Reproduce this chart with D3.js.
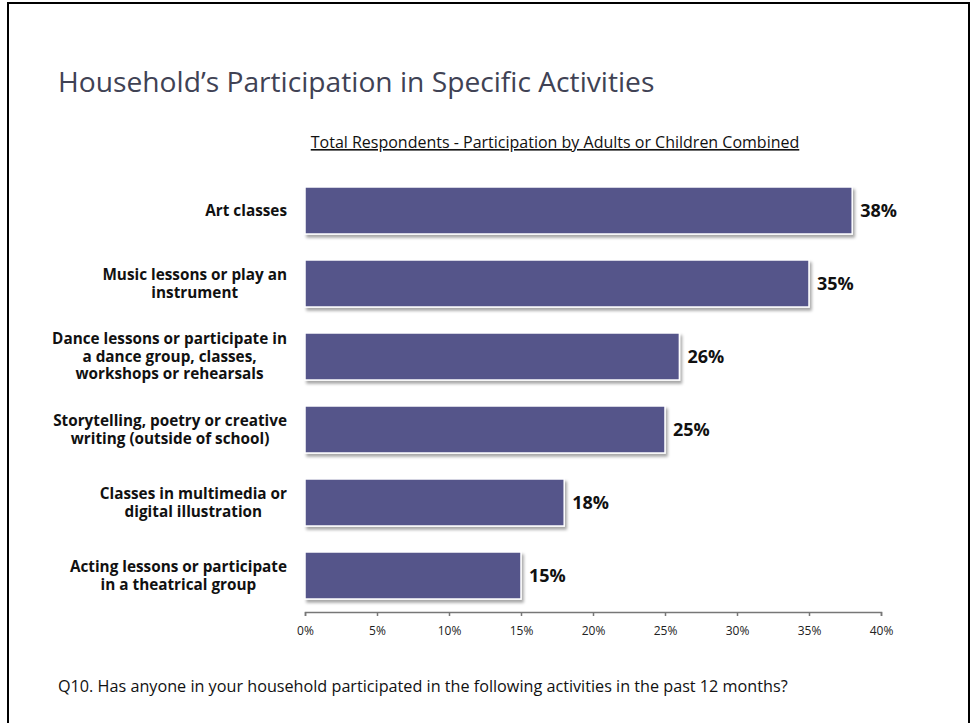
<!DOCTYPE html>
<html lang="en">
<head>
<meta charset="UTF-8">
<title>Household's Participation in Specific Activities</title>
<script src="https://d3js.org/d3.v7.min.js"></script>
<style>
body {
  margin: 0;
  background: white;
}
svg {
  display: block;
}
text {
  font-family: "Open Sans", "Noto Sans", sans-serif;
}
</style>
</head>
<body>
<svg></svg>
<script>
// chart values
let activities = [
  ["Art classes"],
  ["Music lessons or play an", "instrument"],
  ["Dance lessons or participate in", "a dance group, classes,", "workshops or rehearsals"],
  ["Storytelling, poetry or creative", "writing (outside of school)"],
  ["Classes in multimedia or", "digital illustration"],
  ["Acting lessons or participate", "in a theatrical group"]
];
let percents = [38, 35, 26, 25, 18, 15];
let ticks = [0, 5, 10, 15, 20, 25, 30, 35, 40];

let title = "Household\u2019s Participation in Specific Activities";
let subtitle = "Total Respondents - Participation by Adults or Children Combined";
let footnote = "Q10. Has anyone in your household participated in the following activities in the past 12 months?";

let width = 972;
let height = 723;

let svg = d3.select("svg")
  .attr("width", width)
  .attr("height", height);

// drop shadow for the bars
let defs = svg.append("defs");
let shadow = defs.append("filter")
  .attr("id", "shadow")
  .attr("x", "-5%").attr("y", "-20%")
  .attr("width", "115%").attr("height", "150%");
shadow.append("feDropShadow")
  .attr("dx", 2).attr("dy", 3)
  .attr("stdDeviation", 1.5)
  .attr("flood-color", "#000")
  .attr("flood-opacity", 0.35);

// slide frame
svg.append("rect")
  .attr("x", 8).attr("y", 3)
  .attr("width", 961).attr("height", 760)
  .attr("fill", "none")
  .attr("stroke", "#000")
  .attr("stroke-width", 2);

svg.append("text")
  .attr("x", 58).attr("y", 92)
  .style("font-size", "28.2px")
  .style("fill", "#404254")
  .text(title);

svg.append("text")
  .attr("x", 555).attr("y", 148)
  .attr("text-anchor", "middle")
  .style("font-size", "16px")
  .style("fill", "#111")
  .style("text-decoration", "underline")
  .text(subtitle);

svg.append("text")
  .attr("x", 58).attr("y", 692)
  .style("font-size", "16.2px")
  .style("fill", "#111")
  .text(footnote);

let x = d3.scaleLinear()
  .domain([0, 40])
  .range([305, 881]);

let y = d3.scaleBand()
  .domain(d3.range(activities.length))
  .range([174, 612])
  .paddingInner(0.356)
  .paddingOuter(0.178);

// x axis
let axis = svg.append("g")
  .attr("transform", "translate(0,612)")
  .call(d3.axisBottom(x)
    .tickValues(ticks)
    .tickSize(4)
    .tickFormat(d => d + "%"));
axis.select(".domain").attr("stroke", "#777").attr("stroke-width", 1.5);
axis.selectAll(".tick line").attr("stroke", "#777").attr("stroke-width", 1.5);
axis.selectAll(".tick text")
  .attr("y", 14)
  .style("font-family", "'Open Sans', sans-serif")
  .style("font-size", "12px")
  .style("fill", "#222");

// bars
svg.append("g").selectAll("rect")
  .data(percents)
  .enter().append("rect")
  .attr("x", x(0))
  .attr("y", (d, i) => y(i))
  .attr("width", d => x(d) - x(0))
  .attr("height", y.bandwidth())
  .attr("fill", "#55548a")
  .attr("stroke", "#fff")
  .attr("stroke-width", 1.5)
  .attr("filter", "url(#shadow)");

// value labels
svg.append("g").selectAll("text")
  .data(percents)
  .enter().append("text")
  .attr("x", d => x(d) + 8)
  .attr("y", (d, i) => y(i) + y.bandwidth() / 2)
  .attr("dy", "0.36em")
  .style("font-size", "18px")
  .style("font-weight", "bold")
  .style("fill", "#111")
  .text(d => d + "%");

// category labels: block right aligned, lines centred inside it
let labelRight = 287;
let lineH = 17.5;
let labels = svg.append("g");
activities.forEach((lines, i) => {
  let cy = y(i) + y.bandwidth() / 2;
  let g = labels.append("g");
  let items = lines.map((ln, j) => g.append("text")
    .attr("y", cy + (j - (lines.length - 1) / 2) * lineH)
    .attr("dy", "0.35em")
    .style("font-size", "15.3px")
    .style("font-weight", "bold")
    .style("fill", "#111")
    .attr("text-anchor", "middle")
    .text(ln));
  let maxW = d3.max(items, t => t.node().getComputedTextLength());
  items.forEach(t => t.attr("x", labelRight - maxW / 2));
});
</script>
</body>
</html>
